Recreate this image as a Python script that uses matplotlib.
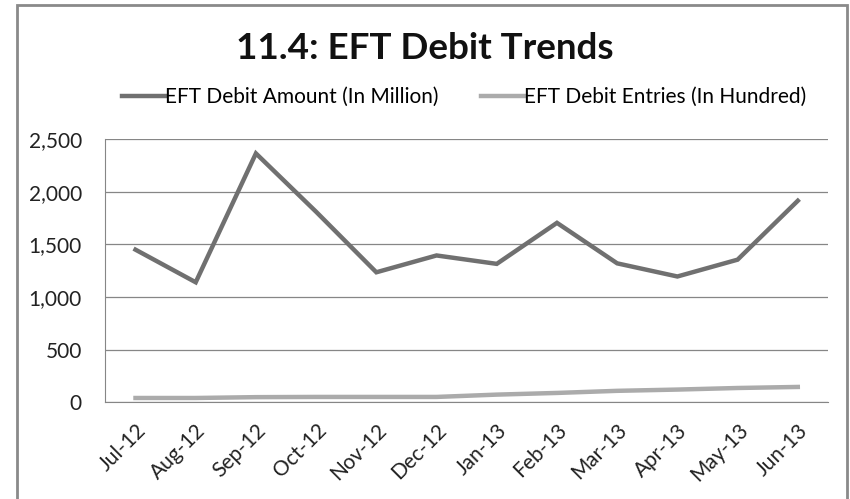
import matplotlib
matplotlib.use('Agg')
import matplotlib.pyplot as plt
from matplotlib.patches import Rectangle
from matplotlib.ticker import FuncFormatter

plt.rcParams['font.family'] = ['Lato', 'DejaVu Sans']

# monthly figures, Jul-12 .. Jun-13
months = ['Jul-12', 'Aug-12', 'Sep-12', 'Oct-12', 'Nov-12', 'Dec-12',
          'Jan-13', 'Feb-13', 'Mar-13', 'Apr-13', 'May-13', 'Jun-13']
debit_amount = [1450, 1140, 2365, 1810, 1235, 1395, 1315, 1705, 1320, 1195, 1355, 1915]
debit_entries = [40, 40, 48, 50, 50, 50, 72, 88, 108, 120, 135, 145]

fig = plt.figure(figsize=(8.5, 4.99), dpi=100)
ax = fig.add_axes([0.124, 0.194, 0.850, 0.527])

x = range(len(months))
ax.plot(x, debit_amount, color='#707070', lw=3.2, solid_joinstyle='miter',
        label='EFT Debit Amount (In Million)')
ax.plot(x, debit_entries, color='#ababab', lw=3.2,
        label='EFT Debit Entries (In Hundred)')

ax.set_xlim(-0.5, len(months) - 0.5)
ax.set_ylim(0, 2500)
ax.set_yticks(range(0, 2501, 500))
ax.yaxis.set_major_formatter(FuncFormatter(lambda v, p: f'{int(v):,}'))
ax.set_xticks(list(x))
ax.set_xticklabels(months, rotation=45, ha='right', rotation_mode='anchor')

ax.grid(axis='y', color='#868686', lw=0.9)
ax.set_axisbelow(True)
for side in ['top', 'right']:
    ax.spines[side].set_visible(False)
for side in ['left', 'bottom']:
    ax.spines[side].set_color('#868686')
ax.tick_params(axis='both', length=0, labelsize=15, colors='#222222')
ax.tick_params(axis='x', pad=13)
ax.tick_params(axis='y', pad=17)

fig.text(0.5, 0.902, '11.4: EFT Debit Trends', ha='center', va='center',
         fontsize=26.5, fontweight='bold', color='#111111')
fig.legend(loc='center', bbox_to_anchor=(0.546, 0.806), ncol=2, frameon=False,
           fontsize=15, handlelength=2.1, handletextpad=0.0, columnspacing=2.0)

# outer chart border
fig.patches.append(Rectangle((0.02, -0.01), 0.976, 1.0, transform=fig.transFigure,
                             fill=False, edgecolor='#8a8a8a', lw=2))

fig.savefig('out.png', dpi=100)
